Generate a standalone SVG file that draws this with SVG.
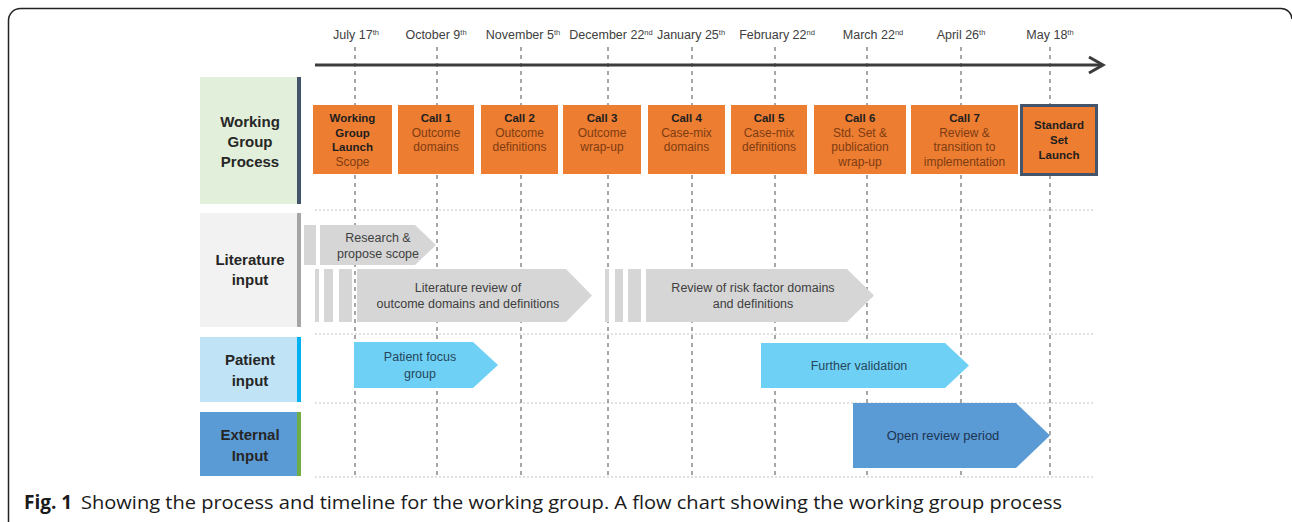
<svg xmlns="http://www.w3.org/2000/svg" width="1292" height="522" viewBox="0 0 1292 522">
<defs>
<style>
text{font-family:"Liberation Sans",Arial,sans-serif;}
.date{font-size:12.5px;fill:#404040;text-anchor:middle;}
.sup{font-size:7.5px;}
.hdr{font-size:15px;font-weight:bold;fill:#262626;text-anchor:middle;}
.ob{fill:#ed7d31;}
.bt{font-size:11.5px;font-weight:bold;fill:#1e1e1e;text-anchor:middle;}
.rt{font-size:12px;fill:#7e3c12;text-anchor:middle;}
.grey{fill:#d6d6d6;}
.gt{font-size:12.5px;fill:#404040;text-anchor:middle;}
.pt{font-size:12.5px;fill:#25475a;text-anchor:middle;}
.et{font-size:13px;fill:#1c3552;text-anchor:middle;}
.vgrid{stroke:#8a8a8a;stroke-width:1.5;stroke-dasharray:4 4;fill:none;}
.hgrid{stroke:#c4c4c4;stroke-width:1;stroke-dasharray:2 2;fill:none;}
.cap{font-family:"Open Sans","Liberation Sans",sans-serif;font-size:19px;fill:#1a1a1a;}
</style>
</defs>
<rect width="1292" height="522" fill="#ffffff"/>
<path d="M8.5,522 V20.5 A12,12 0 0 1 20.5,8.5 H1281 A11,11 0 0 1 1292,19" fill="none" stroke="#222" stroke-width="1.5"/>

<g id="gridlines">
<path class="hgrid" d="M315,210 H1095 M315,334 H1095 M315,403 H1095 M315,477 H1095"/>
<path class="vgrid" d="M355,47 V477 M437,47 V477 M521,47 V477 M608,47 V477 M692,47 V477 M775,47 V477 M867,47 V477 M961,47 V477 M1050,47 V477"/>
</g>

<g id="connectors">
<line x1="315" y1="65" x2="1101" y2="65" stroke="#3c3c3c" stroke-width="3"/>
<polyline points="1089,57 1103,65 1089,73" fill="none" stroke="#3c3c3c" stroke-width="3" stroke-linejoin="miter"/>
</g>

<g id="dates">
<text class="date" x="356" y="39">July 17<tspan class="sup" dy="-4">th</tspan></text>
<text class="date" x="436" y="39">October 9<tspan class="sup" dy="-4">th</tspan></text>
<text class="date" x="523" y="39">November 5<tspan class="sup" dy="-4">th</tspan></text>
<text class="date" x="611" y="39">December 22<tspan class="sup" dy="-4">nd</tspan></text>
<text class="date" x="691" y="39">January 25<tspan class="sup" dy="-4">th</tspan></text>
<text class="date" x="777" y="39">February 22<tspan class="sup" dy="-4">nd</tspan></text>
<text class="date" x="873" y="39">March 22<tspan class="sup" dy="-4">nd</tspan></text>
<text class="date" x="961" y="39">April 26<tspan class="sup" dy="-4">th</tspan></text>
<text class="date" x="1050" y="39">May 18<tspan class="sup" dy="-4">th</tspan></text>
</g>

<g id="hdr-working">
<rect x="200" y="77" width="98" height="127" fill="#e2efda"/>
<rect x="297" y="77" width="4" height="127" fill="#44546a"/>
<text class="hdr" x="250" y="127">Working</text>
<text class="hdr" x="250" y="147">Group</text>
<text class="hdr" x="250" y="167">Process</text>
</g>
<g id="hdr-literature">
<rect x="200" y="213" width="98" height="114" fill="#f2f2f2"/>
<rect x="297" y="213" width="4" height="114" fill="#a6a6a6"/>
<text class="hdr" x="250" y="265">Literature</text>
<text class="hdr" x="250" y="285">input</text>
</g>
<g id="hdr-patient">
<rect x="200" y="337" width="98" height="65" fill="#c0e4f6"/>
<rect x="297" y="337" width="4" height="65" fill="#00b0f0"/>
<text class="hdr" x="250" y="365">Patient</text>
<text class="hdr" x="250" y="386">input</text>
</g>
<g id="hdr-external">
<rect x="200" y="412" width="98" height="64" fill="#5b9bd5"/>
<rect x="297" y="412" width="4" height="64" fill="#70ad47"/>
<text class="hdr" x="250" y="440">External</text>
<text class="hdr" x="250" y="461">Input</text>
</g>

<g id="wg-launch">
<rect class="ob" x="313" y="105" width="79" height="69"/>
<text class="bt" x="352.5" y="122">Working</text>
<text class="bt" x="352.5" y="137">Group</text>
<text class="bt" x="352.5" y="151">Launch</text>
<text class="rt" x="352.5" y="166">Scope</text>
</g>
<g id="call1">
<rect class="ob" x="398" y="105" width="76" height="69"/>
<text class="bt" x="436" y="122">Call 1</text>
<text class="rt" x="436" y="137">Outcome</text>
<text class="rt" x="436" y="151">domains</text>
</g>
<g id="call2">
<rect class="ob" x="481" y="105" width="77" height="69"/>
<text class="bt" x="519.5" y="122">Call 2</text>
<text class="rt" x="519.5" y="137">Outcome</text>
<text class="rt" x="519.5" y="151">definitions</text>
</g>
<g id="call3">
<rect class="ob" x="563" y="105" width="78" height="69"/>
<text class="bt" x="602" y="122">Call 3</text>
<text class="rt" x="602" y="137">Outcome</text>
<text class="rt" x="602" y="151">wrap-up</text>
</g>
<g id="call4">
<rect class="ob" x="648" y="105" width="77" height="69"/>
<text class="bt" x="686.5" y="122">Call 4</text>
<text class="rt" x="686.5" y="137">Case-mix</text>
<text class="rt" x="686.5" y="151">domains</text>
</g>
<g id="call5">
<rect class="ob" x="731" y="105" width="76" height="69"/>
<text class="bt" x="769" y="122">Call 5</text>
<text class="rt" x="769" y="137">Case-mix</text>
<text class="rt" x="769" y="151">definitions</text>
</g>
<g id="call6">
<rect class="ob" x="814" y="105" width="92" height="69"/>
<text class="bt" x="860" y="122">Call 6</text>
<text class="rt" x="860" y="137">Std. Set &amp;</text>
<text class="rt" x="860" y="151">publication</text>
<text class="rt" x="860" y="166">wrap-up</text>
</g>
<g id="call7">
<rect class="ob" x="911" y="105" width="107" height="69"/>
<text class="bt" x="964.5" y="122">Call 7</text>
<text class="rt" x="964.5" y="137">Review &amp;</text>
<text class="rt" x="964.5" y="151">transition to</text>
<text class="rt" x="964.5" y="166">implementation</text>
</g>
<g id="std-launch">
<rect class="ob" x="1021.5" y="105.5" width="75" height="69" stroke="#44546a" stroke-width="3"/>
<text class="bt" x="1059" y="129">Standard</text>
<text class="bt" x="1059" y="144">Set</text>
<text class="bt" x="1059" y="159">Launch</text>
</g>

<g id="lit-research">
<rect class="grey" x="304" y="225" width="12" height="40"/>
<polygon class="grey" points="320,225 415,225 436,245 415,265 320,265"/>
<text class="gt" x="378" y="242">Research &amp;</text>
<text class="gt" x="378" y="258">propose scope</text>
</g>
<g id="lit-review">
<rect class="grey" x="315" y="269" width="4" height="53"/>
<rect class="grey" x="324" y="269" width="9" height="53"/>
<rect class="grey" x="339" y="269" width="13" height="53"/>
<polygon class="grey" points="357,269 566,269 592,295.5 566,322 357,322"/>
<text class="gt" x="468" y="292">Literature review of</text>
<text class="gt" x="468" y="308">outcome domains and definitions</text>
</g>
<g id="lit-risk">
<rect class="grey" x="605" y="269" width="4" height="53"/>
<rect class="grey" x="615" y="269" width="8" height="53"/>
<rect class="grey" x="628" y="269" width="13" height="53"/>
<polygon class="grey" points="646,269 847,269 874,295.5 847,322 646,322"/>
<text class="gt" x="753" y="292">Review of risk factor domains</text>
<text class="gt" x="753" y="308">and definitions</text>
</g>

<g id="patient-focus">
<polygon fill="#6fd0f6" points="354,342 473,342 498,365 473,388 354,388"/>
<text class="pt" x="420" y="361">Patient focus</text>
<text class="pt" x="420" y="378">group</text>
</g>
<g id="further-validation">
<polygon fill="#6fd0f6" points="761,343 945,343 969,365.5 945,388 761,388"/>
<text class="pt" x="859" y="370">Further validation</text>
</g>
<g id="open-review">
<polygon fill="#5b9bd5" points="853,403 1016,403 1050,435.5 1016,468 853,468"/>
<text class="et" x="943" y="440">Open review period</text>
</g>

<g id="caption">
<text class="cap" x="24" y="509" font-weight="bold">Fig. 1</text>
<text class="cap" x="81" y="509" textLength="981" lengthAdjust="spacingAndGlyphs">Showing the process and timeline for the working group. A flow chart showing the working group process</text>
</g>
</svg>
